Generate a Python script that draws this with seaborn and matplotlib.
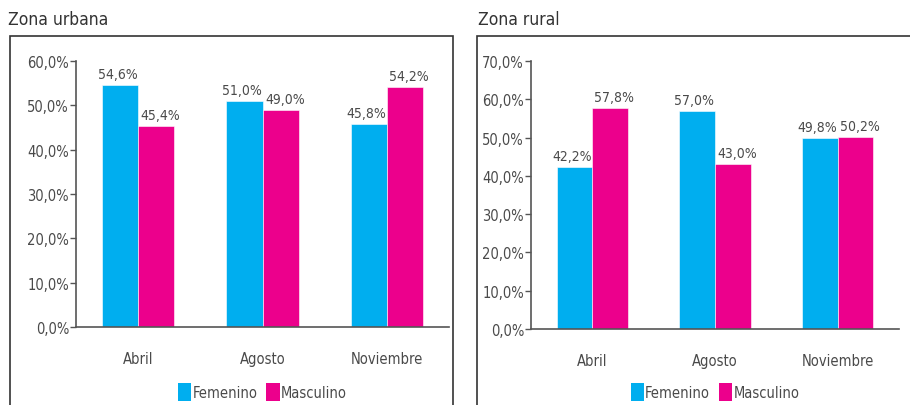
import matplotlib
matplotlib.use("Agg")
import matplotlib.pyplot as plt
from matplotlib.patches import Rectangle, Patch
from matplotlib.ticker import FuncFormatter, MultipleLocator, FixedLocator
import seaborn as sns
import pandas as pd

sns.set_theme(style="white")
plt.rcParams["font.family"] = ["DejaVu Sans"]
plt.rcParams["font.stretch"] = "condensed"

meses = ["Abril", "Agosto", "Noviembre"]
sexos = ["Femenino", "Masculino"]
urbana_fem = [54.6, 51.0, 45.8]
urbana_masc = [45.4, 49.0, 54.2]
rural_fem = [42.2, 57.0, 49.8]
rural_masc = [57.8, 43.0, 50.2]

colores = {"Femenino": "#00AEEF", "Masculino": "#EC008C"}
texto = "#4a4a4a"
linea = "#555555"


def tabla(fem, masc):
    filas = []
    for m, f, v in zip(meses, fem, masc):
        filas.append({"mes": m, "sexo": "Femenino", "valor": f})
        filas.append({"mes": m, "sexo": "Masculino", "valor": v})
    return pd.DataFrame(filas)


def pct(v):
    return f"{v:.1f}%".replace(".", ",")


fig = plt.figure(figsize=(9.10, 4.06), dpi=100)
W, H = 910, 406


def fx(px):
    return px / W


def fy(py):
    return 1 - py / H


# framed panels
for x0, x1 in [(10, 453), (477, 915)]:
    fig.add_artist(Rectangle((fx(x0), fy(420)), fx(x1) - fx(x0), fy(37) - fy(420),
                             transform=fig.transFigure, fill=False,
                             edgecolor="#333333", linewidth=1.2))

paneles = [
    ("Zona urbana", urbana_fem, urbana_masc, 60, (76, 449, 62, 328), 8),
    ("Zona rural", rural_fem, rural_masc, 70, (531, 899, 62, 330), 478),
]

fs = 10.5
# small sideways nudge of value labels so neighbouring labels stay apart
desplaz = {"Femenino": -2, "Masculino": 3}

for titulo, fem, masc, ymax, (l, r, t, b), tx in paneles:
    ax = fig.add_axes([fx(l), fy(b), fx(r) - fx(l), fy(t) - fy(b)])
    df = tabla(fem, masc)
    sns.barplot(data=df, x="mes", y="valor", hue="sexo", order=meses,
                hue_order=sexos, palette=colores, saturation=1, width=0.58, gap=0,
                edgecolor="white", linewidth=0.4, ax=ax, legend=False)
    for sexo, cont in zip(sexos, ax.containers):
        for barra, v in zip(cont.patches, cont.datavalues):
            ax.annotate(pct(v), (barra.get_x() + barra.get_width() / 2, v),
                        xytext=(desplaz[sexo], 3), textcoords="offset points",
                        ha="center", va="bottom", fontsize=10, color=texto)
    ax.set_ylim(0, ymax)
    ax.set_xlim(-0.5, 2.5)
    ax.yaxis.set_major_locator(MultipleLocator(10))
    ax.yaxis.set_major_formatter(FuncFormatter(lambda v, p: pct(v)))
    ax.xaxis.set_minor_locator(FixedLocator([-0.5, 0.5, 1.5, 2.5]))
    ax.tick_params(axis="x", which="major", length=0, pad=17, labelsize=fs, labelcolor=texto)
    ax.tick_params(axis="x", which="minor", length=5, width=1, color=linea, direction="out")
    ax.tick_params(axis="y", length=4, width=1, color=linea, direction="out",
                   labelsize=fs, labelcolor=texto, pad=1, left=True)
    ax.set_xlabel("")
    ax.set_ylabel("")
    for s in ["top", "right"]:
        ax.spines[s].set_visible(False)
    for s in ["left", "bottom"]:
        ax.spines[s].set_color(linea)
        ax.spines[s].set_linewidth(1.2)
    fig.text(fx(tx), fy(20), titulo, fontsize=12.5, color="#333333", va="center", ha="left")

    handles = [Patch(facecolor=colores[s], edgecolor="none") for s in sexos]
    fig.legend(handles, sexos, loc="center", bbox_to_anchor=(fx((l + r) / 2), fy(393)),
               ncol=2, frameon=False, fontsize=fs, labelcolor=texto,
               handlelength=0.9, handleheight=1.5, handletextpad=0.1, columnspacing=0.6)

fig.savefig("out.png", dpi=100)
